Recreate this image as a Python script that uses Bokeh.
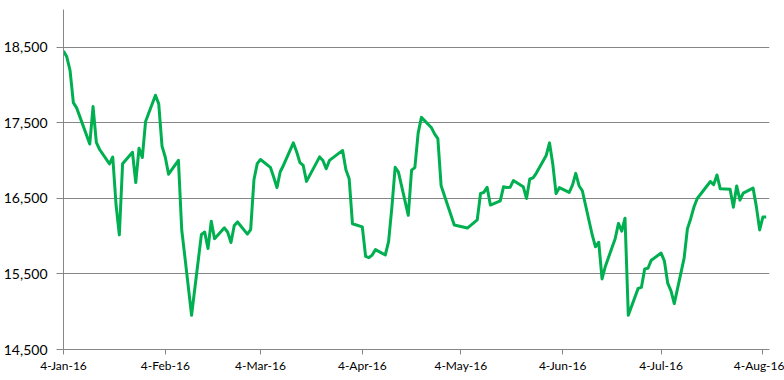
from datetime import date
from bokeh.plotting import figure
from bokeh.models import Range1d, FixedTicker, NumeralTickFormatter, ColumnDataSource
from bokeh.embed import file_html
from bokeh.resources import INLINE

# ---- data ----
dates = [
    "2016-01-04", "2016-01-05", "2016-01-06", "2016-01-07", "2016-01-08",
    "2016-01-12", "2016-01-13", "2016-01-14", "2016-01-15", "2016-01-18",
    "2016-01-19", "2016-01-20", "2016-01-21", "2016-01-22", "2016-01-25",
    "2016-01-26", "2016-01-27", "2016-01-28", "2016-01-29", "2016-02-01",
    "2016-02-02", "2016-02-03", "2016-02-04", "2016-02-05", "2016-02-08",
    "2016-02-09", "2016-02-10", "2016-02-12", "2016-02-15", "2016-02-16",
    "2016-02-17", "2016-02-18", "2016-02-19", "2016-02-22", "2016-02-23",
    "2016-02-24", "2016-02-25", "2016-02-26", "2016-02-29", "2016-03-01",
    "2016-03-02", "2016-03-03", "2016-03-04", "2016-03-07", "2016-03-08",
    "2016-03-09", "2016-03-10", "2016-03-11", "2016-03-14", "2016-03-15",
    "2016-03-16", "2016-03-17", "2016-03-18", "2016-03-22", "2016-03-23",
    "2016-03-24", "2016-03-25", "2016-03-28", "2016-03-29", "2016-03-30",
    "2016-03-31", "2016-04-01", "2016-04-04", "2016-04-05", "2016-04-06",
    "2016-04-07", "2016-04-08", "2016-04-11", "2016-04-12", "2016-04-13",
    "2016-04-14", "2016-04-15", "2016-04-18", "2016-04-19", "2016-04-20",
    "2016-04-21", "2016-04-22", "2016-04-25", "2016-04-26", "2016-04-27",
    "2016-04-28", "2016-05-02", "2016-05-06", "2016-05-09", "2016-05-10",
    "2016-05-11", "2016-05-12", "2016-05-13", "2016-05-16", "2016-05-17",
    "2016-05-18", "2016-05-19", "2016-05-20", "2016-05-23", "2016-05-24",
    "2016-05-25", "2016-05-26", "2016-05-27", "2016-05-30", "2016-05-31",
    "2016-06-01", "2016-06-02", "2016-06-03", "2016-06-06", "2016-06-07",
    "2016-06-08", "2016-06-09", "2016-06-10", "2016-06-13", "2016-06-14",
    "2016-06-15", "2016-06-16", "2016-06-17", "2016-06-20", "2016-06-21",
    "2016-06-22", "2016-06-23", "2016-06-24", "2016-06-27", "2016-06-28",
    "2016-06-29", "2016-06-30", "2016-07-01", "2016-07-04", "2016-07-05",
    "2016-07-06", "2016-07-07", "2016-07-08", "2016-07-11", "2016-07-12",
    "2016-07-13", "2016-07-14", "2016-07-15", "2016-07-19", "2016-07-20",
    "2016-07-21", "2016-07-22", "2016-07-25", "2016-07-26", "2016-07-27",
    "2016-07-28", "2016-07-29", "2016-08-01", "2016-08-02", "2016-08-03",
    "2016-08-04", "2016-08-05",
]
values = [
    18451, 18374, 18191, 17767, 17698,
    17219, 17716, 17241, 17147, 16956,
    17048, 16416, 16017, 16959, 17111,
    16709, 17164, 17041, 17518, 17865,
    17751, 17191, 17045, 16820, 17004,
    16085, 15713, 14953, 16023, 16054,
    15836, 16197, 15967, 16111, 16052,
    15916, 16140, 16188, 16027, 16086,
    16747, 16960, 17015, 16911, 16783,
    16642, 16852, 16939, 17234, 17117,
    16974, 16936, 16725, 17049, 17001,
    16892, 17003, 17102, 17134, 16879,
    16759, 16164, 16123, 15733, 15715,
    15750, 15822, 15751, 15929, 16381,
    16911, 16848, 16276, 16874, 16907,
    17364, 17572, 17439, 17353, 17290,
    16666, 16147, 16107, 16216, 16565,
    16579, 16647, 16412, 16466, 16653,
    16645, 16646, 16736, 16655, 16499,
    16757, 16772, 16835, 17068, 17235,
    16956, 16563, 16642, 16580, 16675,
    16831, 16668, 16601, 16019, 15859,
    15920, 15434, 15600, 15965, 16169,
    16066, 16238, 14952, 15309, 15323,
    15567, 15576, 15682, 15776, 15669,
    15379, 15276, 15107, 15709, 16096,
    16231, 16386, 16498, 16723, 16682,
    16810, 16627, 16620, 16383, 16665,
    16477, 16569, 16636, 16391, 16083,
    16254, 16255,
]
tick_dates = ["2016-01-04", "2016-02-04", "2016-03-04", "2016-04-04",
              "2016-05-04", "2016-06-04", "2016-07-04", "2016-08-04"]
tick_labels = ["4-Jan-16", "4-Feb-16", "4-Mar-16", "4-Apr-16",
               "4-May-16", "4-Jun-16", "4-Jul-16", "4-Aug-16"]
y_ticks = [14500, 15500, 16500, 17500, 18500]
y_min, y_max = 14500, 19000
x_start, x_end = "2016-01-04", "2016-08-06"

# ---- build ----
origin = date.fromisoformat(x_start)
def day(s):
    return (date.fromisoformat(s) - origin).days

xs = [day(d) for d in dates]
src = ColumnDataSource(dict(x=xs, y=values))

p = figure(width=784, height=380, output_backend="svg", toolbar_location=None,
           x_range=Range1d(0, day(x_end)), y_range=Range1d(y_min, y_max),
           min_border_left=61, min_border_right=15, min_border_top=9,
           min_border_bottom=31)
p.outline_line_color = None
p.background_fill_color = "white"
p.border_fill_color = "white"

p.line("x", "y", source=src, line_color="#00B050", line_width=3,
       line_join="round")

GRAY = "#868686"
# x axis
xa = p.xaxis[0]
xa.ticker = FixedTicker(ticks=[day(d) for d in tick_dates])
xa.major_label_overrides = {day(d): lab for d, lab in zip(tick_dates, tick_labels)}
xa.axis_line_color = GRAY
xa.major_tick_line_color = GRAY
xa.major_tick_out = 5
xa.major_tick_in = 0
xa.minor_tick_line_color = None
xa.major_label_text_font = "Lato"
xa.major_label_text_font_size = "12px"
xa.major_label_text_color = "black"
xa.major_label_standoff = 3

# y axis
ya = p.yaxis[0]
ya.ticker = FixedTicker(ticks=y_ticks)
ya.formatter = NumeralTickFormatter(format="0,0")
ya.axis_line_color = GRAY
ya.major_tick_line_color = GRAY
ya.major_tick_out = 7
ya.major_tick_in = 0
ya.minor_tick_line_color = None
ya.major_label_text_font = "Lato"
ya.major_label_text_font_size = "14px"
ya.major_label_text_color = "black"
ya.major_label_standoff = 9

p.xgrid.grid_line_color = None
p.ygrid.ticker = FixedTicker(ticks=y_ticks)
p.ygrid.grid_line_color = GRAY
p.ygrid.grid_line_width = 1

open("out.html", "w").write(file_html(p, INLINE))
